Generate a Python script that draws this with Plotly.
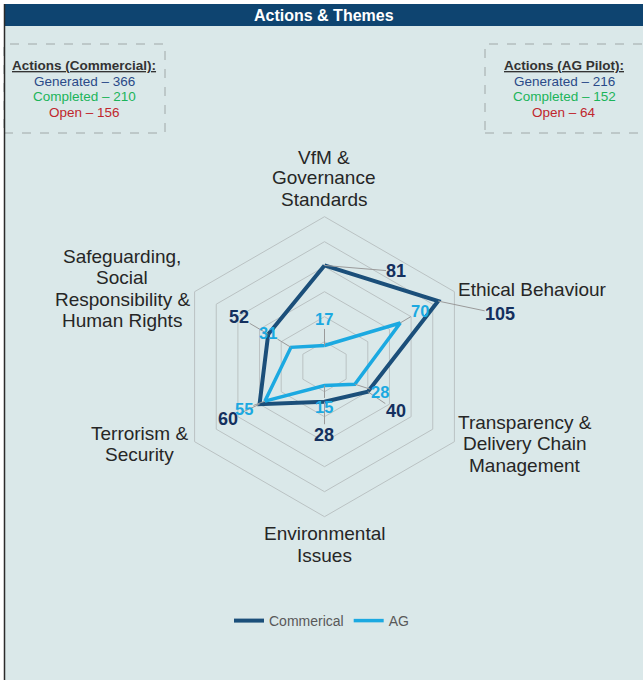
import math
import plotly.graph_objects as go

W, H = 643, 680

categories = ["VfM & Governance Standards", "Ethical Behaviour",
              "Transparency & Delivery Chain Management", "Environmental Issues",
              "Terrorism & Security", "Safeguarding, Social Responsibility & Human Rights"]
category_lines = [["VfM &", "Governance", "Standards"], ["Ethical Behaviour"],
                  ["Transparency &", "Delivery Chain", "Management"], ["Environmental", "Issues"],
                  ["Terrorism &", "Security"],
                  ["Safeguarding,", "Social", "Responsibility &", "Human Rights"]]
commercial = [81, 105, 40, 28, 60, 52]
ag = [17, 70, 28, 15, 55, 31]
series_names = ["Commerical", "AG"]

comm_stats = ["Generated \u2013 366", "Completed \u2013 210", "Open \u2013 156"]
ag_stats = ["Generated \u2013 216", "Completed \u2013 152", "Open \u2013 64"]

BG = "#DAE8E9"
NAVY_LINE = "#1B4F7A"
NAVY_TXT = "#14305E"
BLUE = "#1BA9E1"
GRID = "#BAC2C3"
FONT = "Liberation Sans, Arial, sans-serif"

# polar geometry (pixels)
CX, CY, R, RMAX = 324.5, 366.7, 150.0, 120.0


def px(x):
    return x / W


def py(y):
    return 1 - y / H


fig = go.Figure()
for name, vals, col, wd in [(series_names[0], commercial, NAVY_LINE, 4),
                            (series_names[1], ag, BLUE, 3.5)]:
    fig.add_trace(go.Scatterpolar(
        r=vals + vals[:1], theta=categories + categories[:1], mode="lines",
        name=name, line=dict(color=col, width=wd), hoverinfo="skip"))

fig.update_layout(
    width=W, height=H, margin=dict(l=0, r=0, t=0, b=0),
    paper_bgcolor="white", plot_bgcolor=BG,
    font=dict(family=FONT, color="#333333"),
    polar=dict(
        bgcolor="rgba(0,0,0,0)",
        domain=dict(x=[px(CX - R), px(CX + R)], y=[py(CY + R), py(CY - R)]),
        gridshape="linear",
        radialaxis=dict(range=[0, RMAX], dtick=20, showticklabels=False, ticks="",
                        showline=False, gridcolor=GRID, gridwidth=1),
        angularaxis=dict(rotation=90, direction="clockwise", showticklabels=False,
                         ticks="", showgrid=False, showline=True, linecolor=GRID,
                         linewidth=1),
    ),
    showlegend=True,
    legend=dict(orientation="h", x=0.5, xanchor="center", y=py(621), yanchor="middle",
                font=dict(size=14, color="#595959", family=FONT),
                bgcolor="rgba(0,0,0,0)", itemwidth=30),
)

shapes = [
    dict(type="rect", xref="paper", yref="paper", x0=px(4), x1=1, y0=0, y1=py(4),
         fillcolor=BG, line=dict(width=0), layer="below"),
    dict(type="rect", xref="paper", yref="paper", x0=px(4), x1=1, y0=py(26), y1=py(4),
         fillcolor="#0E4470", line=dict(width=0), layer="below"),
    dict(type="line", xref="paper", yref="paper", x0=px(4.5), x1=px(4.5), y0=0, y1=py(4),
         line=dict(color="#2B2B2B", width=1.5)),
    dict(type="rect", xref="paper", yref="paper", x0=px(4), x1=px(165), y0=py(133), y1=py(44),
         line=dict(color="#A0A8A8", width=1, dash="dash"), layer="below"),
    dict(type="rect", xref="paper", yref="paper", x0=px(485), x1=px(645), y0=py(133), y1=py(44),
         line=dict(color="#A0A8A8", width=1, dash="dash"), layer="below"),
]
fig.update_layout(shapes=shapes)

ann = []


def text_ann(t, x, y, size, color):
    return dict(text=t, x=px(x), y=py(y), xref="paper", yref="paper", showarrow=False,
                xanchor="center", yanchor="middle", font=dict(size=size, color=color, family=FONT))


ann.append(text_ann("<b>Actions & Themes</b>", 324, 15, 16, "white"))

stat_colors = ["#2A4A88", "#1BB45A", "#C0262D"]
for cxp, head, stats in [(84, "Actions (Commercial):", comm_stats), (564, "Actions (AG Pilot):", ag_stats)]:
    ann.append(text_ann("<b><u>" + head + "</u></b>", cxp, 66, 13.5, "#333333"))
    for i, s in enumerate(stats):
        ann.append(text_ann(s, cxp, 81 + 16 * i, 13.5, stat_colors[i]))

# category labels, one annotation per line
cat_pos = [(324, 157), (532, 289), (525, 422), (324, 533), (139, 434), (122, 256)]
cat_step = [21, 21, 21.5, 22, 21, 21.5]
for lines, (x, y0), st in zip(category_lines, cat_pos, cat_step):
    for j, line in enumerate(lines):
        ann.append(text_ann(line, x, y0 + st * j, 19, "#262626"))


def pt(val, idx):
    ang = math.radians(60 * idx)
    r = val / RMAX * R
    return CX + r * math.sin(ang), CY - r * math.cos(ang)


comm_off = [(72, 6), (62, 13), (28, 19), (0, 33), (-32, 15), (-29, -17)]
ag_off = [(0, -26), (20, -12), (25, 8), (0, 22), (-21, 8), (-23, -14)]
for vals, offs, col, sz in [(commercial, comm_off, NAVY_TXT, 18), (ag, ag_off, BLUE, 16.5)]:
    for i, (v, (dx, dy)) in enumerate(zip(vals, offs)):
        x, y = pt(v, i)
        ann.append(dict(text="<b>%d</b>" % v, x=px(x), y=py(y), xref="paper", yref="paper",
                        showarrow=True, arrowhead=0, arrowwidth=1, arrowcolor="#9A9A9A",
                        ax=dx, ay=dy, standoff=0, borderpad=0,
                        font=dict(size=sz, color=col, family=FONT)))

fig.update_layout(annotations=ann)
fig.write_html("out.html", config={"displayModeBar": False},
               post_script="document.body.style.margin='0';document.body.style.overflow='hidden';")
